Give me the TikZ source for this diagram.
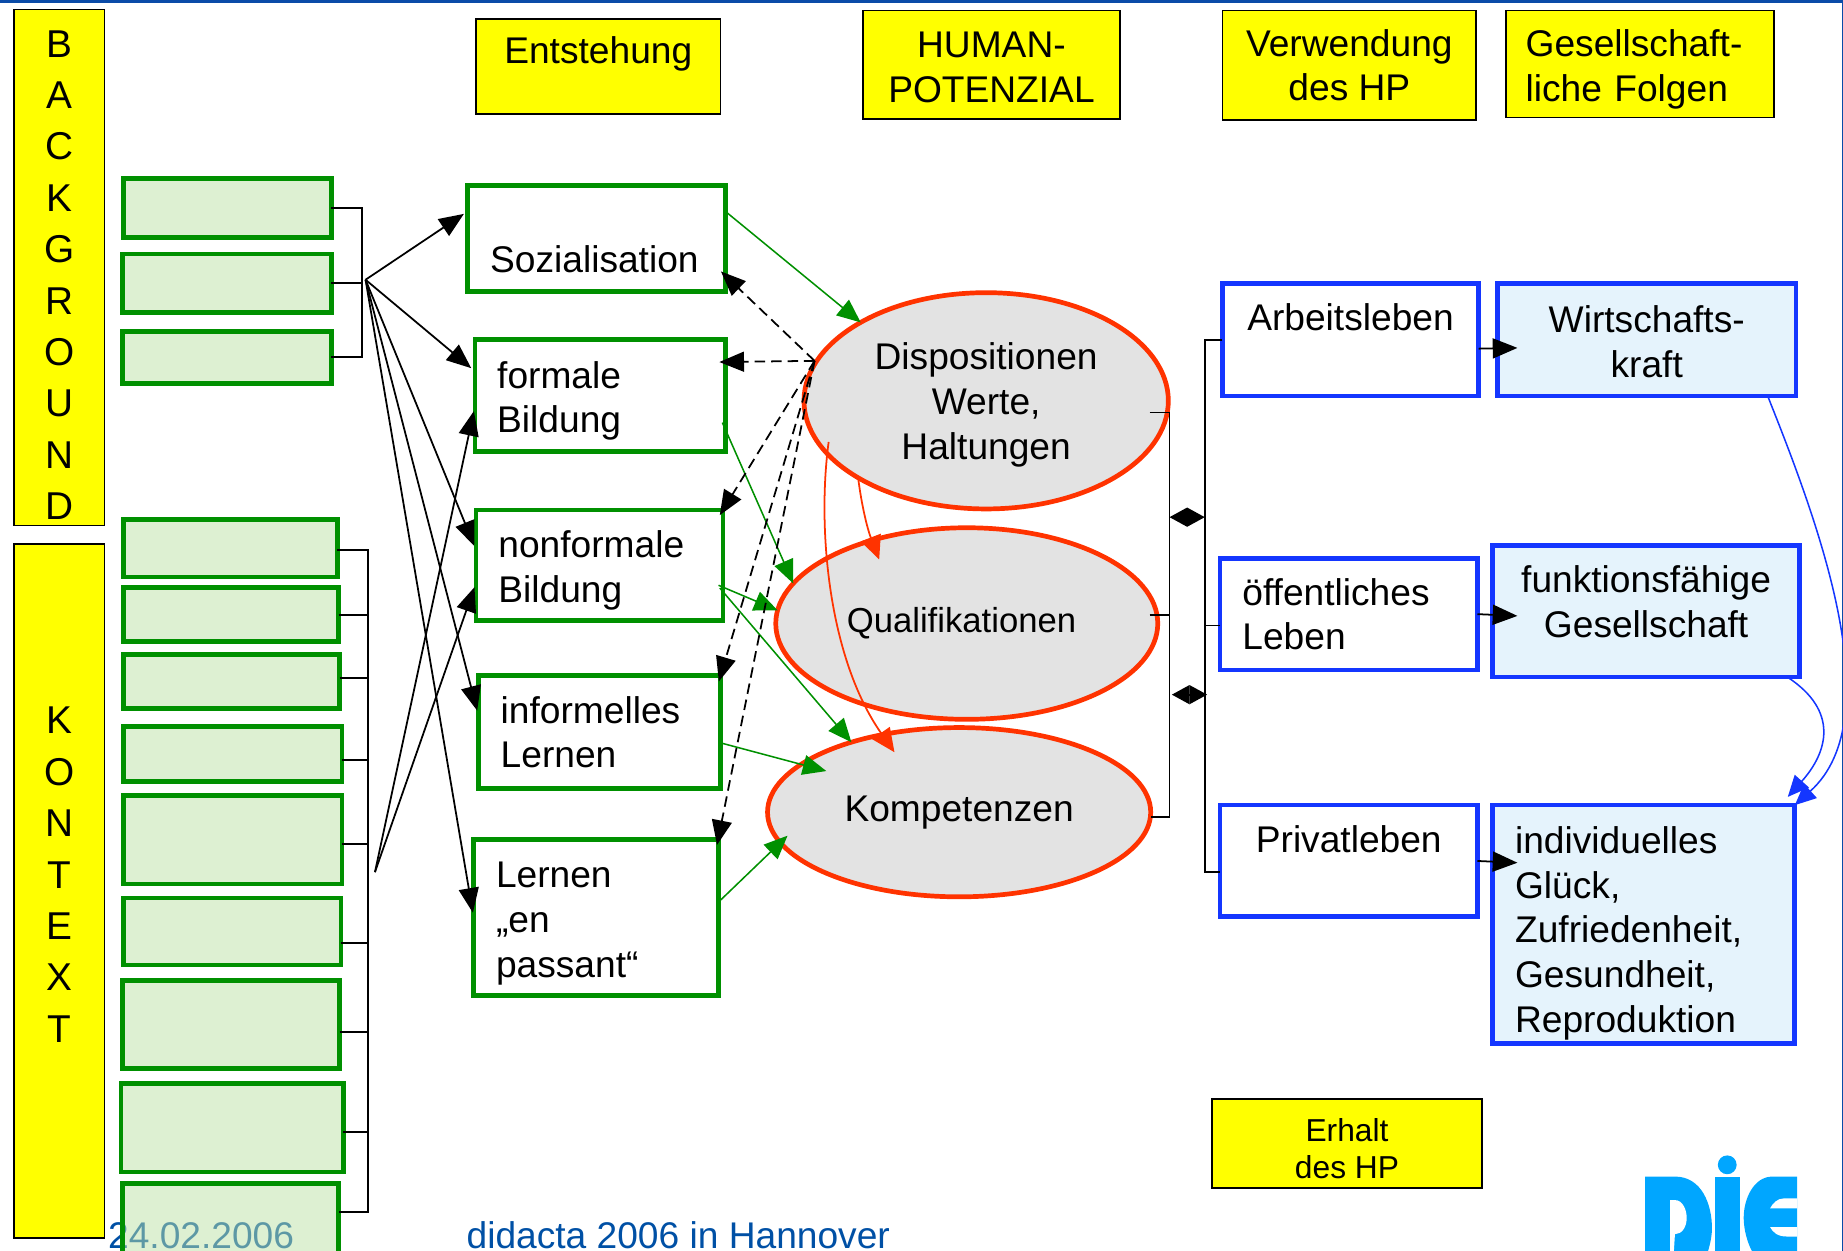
\documentclass[tikz,border=0pt]{standalone}
\usepackage{fontspec}
\setmainfont{Liberation Sans}
\usepackage{tikz}
\usetikzlibrary{arrows.meta,shapes.geometric}

\definecolor{barblue}{RGB}{10,75,168}
\definecolor{textblue}{RGB}{0,80,165}
\definecolor{logoblue}{RGB}{0,166,255}
\definecolor{headyellow}{RGB}{255,255,0}
\definecolor{boxgreen}{RGB}{0,144,0}
\definecolor{glassgreen}{RGB}{187,225,165}
\definecolor{boxred}{RGB}{255,51,0}
\definecolor{boxblue}{RGB}{20,54,255}
\definecolor{paleblue}{RGB}{229,243,252}

\tikzset{
  every node/.style={inner sep=0pt,outer sep=0pt,font=\fontsize{31.6}{38}\selectfont},
  yellowbox/.style={draw=black,line width=1.5pt,fill=headyellow,align=center},
  factorbox/.style={draw=boxgreen,line width=4pt,fill=glassgreen,fill opacity=0.5},
  greenbox/.style={draw=boxgreen,line width=4pt,fill=white,align=left},
  potential/.style={ellipse,draw=boxred,line width=4pt,fill=black!11,align=center},
  usebox/.style={draw=boxblue,line width=4pt,fill=white,align=left},
  resultbox/.style={draw=boxblue,line width=4pt,fill=paleblue,align=center},
  link/.style={black,line width=1.5pt},
  arrowlink/.style={link,-{Triangle[length=21pt,width=17pt]}},
  learnlink/.style={arrowlink,shorten >=4pt},
  dashlink/.style={arrowlink,dash pattern=on 9pt off 5pt,shorten >=-5pt},
  bothlink/.style={link,{Triangle[length=15pt,width=16pt]}-{Triangle[length=15pt,width=16pt]}},
  greenlink/.style={boxgreen,line width=1.3pt,-{Triangle[length=20pt,width=17pt]}},
  redlink/.style={boxred,line width=1.5pt,-{Triangle[length=20pt,width=18pt]}},
  bluelink/.style={boxblue,line width=1.3pt,-{Triangle[length=18pt,width=16pt]}}
}

\begin{document}
\begin{tikzpicture}[x=1pt,y=-1pt]

\clip (0,0) rectangle (1568,1064.3);

% Page frame
\fill[barblue] (0,0) rectangle (1568,2.5);
\draw[barblue,line width=1pt] (1567.5,0) -- (1567.5,1064.3);

% Footer (the last factor box lies over the date)
\node[anchor=base west,text=textblue] (datum) at (92,1062) {24.02.2006};
\node[anchor=base west,text=textblue] (messe) at (397,1062) {didacta 2006 in Hannover};

% Headings
\node[yellowbox,minimum width=77,minimum height=439,font=\fontsize{33}{43.7}\selectfont] (background) at (50.5,227.5) {\mbox{}\\[-8pt]B\\A\\C\\K\\G\\R\\O\\U\\N\\D};
\node[yellowbox,minimum width=77,minimum height=590,font=\fontsize{33}{43.7}\selectfont] (kontext) at (50.5,758) {K\\O\\N\\T\\E\\X\\T\\[-16pt]\mbox{}};
\node[yellowbox,minimum width=208,minimum height=81] (entstehung) at (509,56.5) {Entstehung\\[-11pt]\mbox{}};
\node[yellowbox,minimum width=219,minimum height=92] (humanpot) at (843.5,55) {\mbox{}\\[-12pt]HUMAN-\\POTENZIAL};
\node[yellowbox,minimum width=216,minimum height=93] (verwendung) at (1148,55.5) {Verwendung\\des HP};
\node[yellowbox,minimum width=228,minimum height=91,text width=194,align=left] (folgen) at (1395,54.5) {\mbox{}\\[-6pt]Gesellschaft-\\liche Folgen};
\node[yellowbox,minimum width=230,minimum height=76,font=\fontsize{27}{32}\selectfont] (erhalt) at (1146,973) {\mbox{}\\[-4pt]Erhalt\\des HP};

% Background factors
\node[factorbox,minimum width=177,minimum height=50] (bg1) at (193.5,177) {};
\node[factorbox,minimum width=178,minimum height=50] (bg2) at (193,241) {};
\node[factorbox,minimum width=178,minimum height=44] (bg3) at (193,304) {};

% Context factors
\node[factorbox,minimum width=182,minimum height=49] (kt1) at (196,466.5) {};
\node[factorbox,minimum width=183,minimum height=46] (kt2) at (196.5,523) {};
\node[factorbox,minimum width=184,minimum height=46] (kt3) at (197,580) {};
\node[factorbox,minimum width=186,minimum height=47] (kt4) at (198,641.5) {};
\node[factorbox,minimum width=186,minimum height=75] (kt5) at (198,714.5) {};
\node[factorbox,minimum width=185,minimum height=57] (kt6) at (197.5,792.5) {};
\node[factorbox,minimum width=185,minimum height=75] (kt7) at (196.5,871.5) {};
\node[factorbox,minimum width=189,minimum height=75] (kt8) at (197.5,959.5) {};
\node[factorbox,minimum width=184,minimum height=68] (kt9) at (196,1041) {};

% Ways of learning
\node[greenbox,minimum width=219,minimum height=90,text width=181] (sozial) at (507.5,203) {\mbox{}\\[20pt]Sozialisation};
\node[greenbox,minimum width=213,minimum height=95,text width=175] (formal) at (510.5,336.5) {\mbox{}\\[-6pt]formale\\Bildung};
\node[greenbox,minimum width=210,minimum height=94,text width=172] (nonformal) at (510,481) {\mbox{}\\[-6pt]nonformale\\Bildung};
\node[greenbox,minimum width=206,minimum height=96,text width=168] (informell) at (510,623) {informelles\\Lernen};
\node[greenbox,minimum width=208,minimum height=133,text width=170] (passant) at (507,780.5) {\mbox{}\\[-6pt]Lernen\\„en\\passant“};

% Human potential
\node[potential,minimum width=310,minimum height=184] (dispo) at (839,341) {\mbox{}\\[-8pt]Dispositionen\\Werte,\\Haltungen};
\node[potential,minimum width=325,minimum height=163,font=\fontsize{29.5}{36}\selectfont] (quali) at (822.5,530.5) {Qualifikationen\hspace{9pt}};
\node[potential,minimum width=326,minimum height=144] (kompetenz) at (816,691) {Kompetenzen};

% Use
\node[usebox,minimum width=218,minimum height=96,align=center] (arbeit) at (1149,289) {Arbeitsleben\\\mbox{}};
\node[usebox,minimum width=219,minimum height=95,text width=181] (oeffentlich) at (1147.5,522.5) {öffentliches\\Leben};
\node[usebox,minimum width=219,minimum height=95,align=center] (privat) at (1147.5,732.5) {Privatleben\\\mbox{}};

% Consequences
\node[resultbox,minimum width=254,minimum height=96] (wirtschaft) at (1401,289) {\mbox{}\\[-12pt]Wirtschafts-\\kraft};
\node[resultbox,minimum width=261,minimum height=112] (gesellschaft) at (1400.5,520) {funktionsfähige\\Gesellschaft\\[-22pt]\mbox{}};
\node[resultbox,minimum width=257,minimum height=203,text width=219,align=left] (glueck) at (1398.5,786.5) {\mbox{}\\[0pt]individuelles\\Glück,\\Zufriedenheit,\\Gesundheit,\\Reproduktion};

% Free ends of the connectors
\coordinate (railB) at (308,238);
\coordinate (railK) at (313,750);
\coordinate (railE) at (995,520);
\coordinate (railV) at (1025,520);
\coordinate (hubB) at (311,238);
\coordinate (hubK) at (319,742);
\coordinate (hubD) at (693,307);
\coordinate (stubD) at (978,351);
\coordinate (stubQ) at (978,523);
\coordinate (stubK) at (979,695);
\coordinate (kompB) at (703,656);
\coordinate (kompC) at (670,711);
\coordinate (redD) at (705,376);
\coordinate (redQ) at (748,476);
\coordinate (redK) at (761,640);
\coordinate (bothA1) at (995,440);
\coordinate (bothA2) at (1025,440);
\coordinate (bothB1) at (997,591);
\coordinate (bothB2) at (1027,591);
\coordinate (tipW) at (1291,296);
\coordinate (tipG) at (1291,524);
\coordinate (tipI) at (1291,734);
\coordinate (tipZ) at (1521,678);

% Brackets on the left
\draw[link] (bg1.east) -- (bg1.east -| railB) -- (railB |- bg3.east) -- (bg3.east);
\draw[link] (bg2.east) -- (bg2.east -| railB);
\draw[link] (kt1.-1) -- (kt1.-1 -| railK) -- (railK |- kt9.6) -- (kt9.6);
\draw[link] (kt2.east) -- (kt2.east -| railK);
\draw[link] (kt3.2) -- (kt3.2 -| railK);
\draw[link] (kt4.-3) -- (kt4.-3 -| railK);
\draw[link] (kt5.-2) -- (kt5.-2 -| railK);
\draw[link] (kt6.-6.5) -- (kt6.-6.5 -| railK);
\draw[link] (kt7.-4) -- (kt7.-4 -| railK);
\draw[link] (kt8.-2) -- (kt8.-2 -| railK);

% Background and context into learning
\draw[learnlink] (hubB) -- (sozial.168);
\draw[learnlink] (hubB) -- (formal.169);
\draw[learnlink] (hubB) -- (nonformal.173);
\draw[learnlink] (hubB) -- (informell.172);
\draw[learnlink] (hubB) -- (passant.west);
\draw[learnlink] (hubK) -- (formal.185);
\draw[learnlink] (hubK) -- (nonformal.188);

% Learning into potential
\draw[greenlink] (sozial.12) -- (dispo.148);
\draw[greenlink,shorten <=-6pt] (formal.-15) -- (quali.167);
\draw[greenlink,shorten <=-4pt] (nonformal.-10) -- (quali.176);
\draw[greenlink,shorten <=-4pt] (nonformal.-12) -- (kompetenz.147);
\draw[greenlink,shorten <=-2pt] (informell.-5) -- (kompB);
\draw[greenlink] (passant.7) -- (kompC);

% Back from the dispositions
\draw[dashlink] (hubD) -- (sozial.-16);
\draw[dashlink] (hubD) -- (formal.15);
\draw[dashlink] (hubD) -- (nonformal.north east);
\draw[dashlink] (hubD) -- (informell.north east);
\draw[dashlink] (hubD) -- (passant.north east);

% Inside the potential
\draw[redlink] (dispo.211) .. controls (733,430) and (738,450) .. (redQ);
\draw[redlink] (redD) .. controls (695,450) and (705,560) .. (redK);

% Brackets on the right
\draw[link] (stubD) -- (stubD -| railE) -- (railE |- stubK) -- (stubK);
\draw[link] (stubQ) -- (stubQ -| railE);
\draw[link] (arbeit.west) -- (arbeit.west -| railV) -- (railV |- privat.185) -- (privat.185);
\draw[link] (oeffentlich.185) -- (oeffentlich.185 -| railV);
\draw[bothlink] (bothA1) -- (bothA2);
\draw[bothlink] (bothB1) -- (bothB2);

% Use into consequences
\draw[arrowlink] (arbeit.-4) -- (tipW);
\draw[arrowlink] (oeffentlich.east) -- (tipG);
\draw[arrowlink] (privat.east) -- (tipI);
\draw[bluelink] (wirtschaft.-25) .. controls (1545,440) and (1610,610) .. (glueck.north east);
\draw[bluelink] (gesellschaft.-25) .. controls (1565,605) and (1555,640) .. (tipZ);

% Logo
\fill[logoblue] (1399.6,1001) -- (1425,1001) .. controls (1448,1001) and (1456.5,1025) .. (1456.5,1045) .. controls (1456.5,1055) and (1453,1065) .. (1450,1075) -- (1399.6,1075) -- cycle;
\fill[white] (1421,1021) -- (1425,1021) .. controls (1432,1021) and (1435,1030) .. (1435,1036) .. controls (1435,1044) and (1431,1050) .. (1425,1050) -- (1424,1066) -- (1421,1066) -- cycle;
\fill[logoblue] (1459,1001) rectangle (1480,1075);
\fill[logoblue] (1469.5,991) ellipse (8 and 8);
\fill[logoblue] (1529,1001) -- (1508,1001) .. controls (1492,1001) and (1483.5,1020) .. (1483.5,1036) .. controls (1483.5,1050) and (1490,1070) .. (1500,1075) -- (1529,1075) -- cycle;
\fill[white] (1529,1019.5) -- (1518,1019.5) .. controls (1512,1019.5) and (1508,1024) .. (1506,1028) -- (1529,1028) -- cycle;
\fill[white] (1529,1052) -- (1520,1052) .. controls (1512,1052) and (1508,1048) .. (1506,1044) -- (1529,1044) -- cycle;

\end{tikzpicture}
\end{document}
